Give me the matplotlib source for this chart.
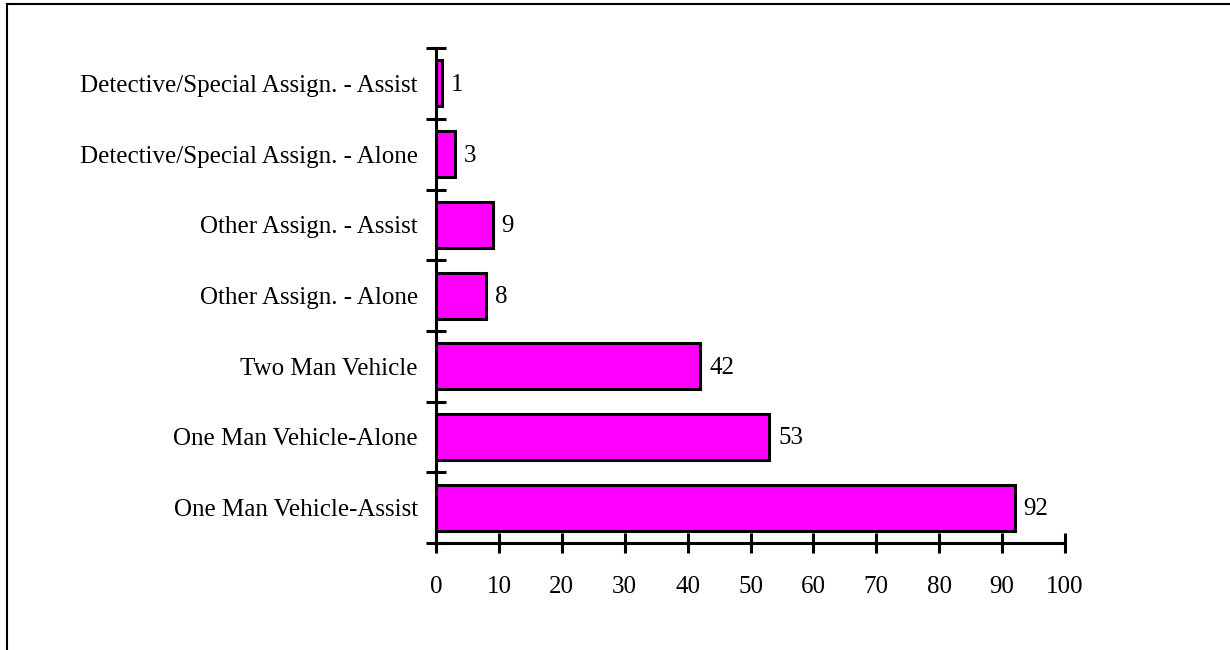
import matplotlib.pyplot as plt
from matplotlib.lines import Line2D

categories = ['One Man Vehicle-Assist', 'One Man Vehicle-Alone', 'Two Man Vehicle',
              'Other Assign. - Alone', 'Other Assign. - Assist',
              'Detective/Special Assign. - Alone', 'Detective/Special Assign. - Assist']
values = [92, 53, 42, 8, 9, 3, 1]
xticks = [0, 10, 20, 30, 40, 50, 60, 70, 80, 90, 100]

plt.rcParams['font.family'] = ['Liberation Serif', 'DejaVu Serif']

fig = plt.figure(figsize=(12.3, 6.5), dpi=100)
ax = fig.add_axes([0.3545, 0.1646, 0.5114, 0.7614])

pos = list(range(len(categories)))
ax.barh(pos, values, height=0.65, color='#FF00FF', edgecolor='black', linewidth=2.2)
for p, v in zip(pos, values):
    ax.text(v + 1.4, p - 0.02, str(v), va='center', ha='left', fontsize=18)

ax.set_xlim(0, 100)
ax.set_ylim(-0.5, len(categories) - 0.5)
ax.set_xticks(xticks)
ax.set_yticks([p - 0.5 for p in pos] + [len(categories) - 0.5])
ax.set_yticklabels([])
ax.set_yticks(pos, minor=True)
ax.set_yticklabels(categories, minor=True, fontsize=18)
ax.tick_params(axis='y', which='minor', length=0, pad=13)
ax.tick_params(axis='y', which='major', direction='inout', length=14, width=2.2)
ax.tick_params(axis='x', direction='inout', length=15, width=2.2, labelsize=18, pad=16)

for s in ['top', 'right']:
    ax.spines[s].set_visible(False)
for s in ['left', 'bottom']:
    ax.spines[s].set_linewidth(2.2)

# frame lines along top and left edge
fig.add_artist(Line2D([0.0057, 1.0], [0.9931, 0.9931], transform=fig.transFigure,
                      color='black', linewidth=1.5))
fig.add_artist(Line2D([0.0057, 0.0057], [0.0, 0.9931], transform=fig.transFigure,
                      color='black', linewidth=1.5))

fig.savefig('out.png', dpi=100)
